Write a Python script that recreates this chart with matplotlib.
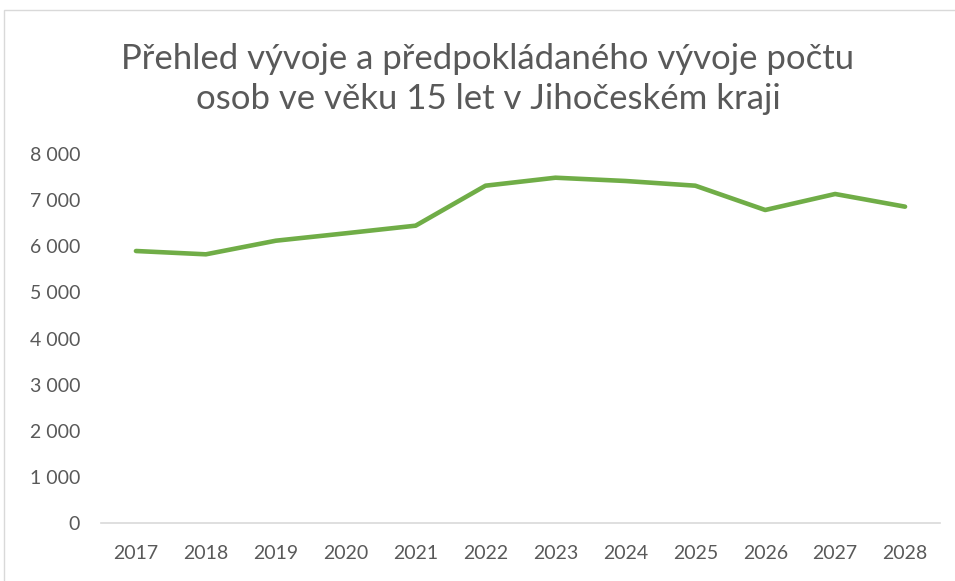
import matplotlib
matplotlib.use("Agg")
import matplotlib.pyplot as plt
from matplotlib.patches import Rectangle
from matplotlib.ticker import FuncFormatter

years = ["2017", "2018", "2019", "2020", "2021", "2022", "2023", "2024", "2025", "2026", "2027", "2028"]
values = [5897, 5825, 6120, 6281, 6446, 7313, 7486, 7415, 7313, 6786, 7133, 6858]
yticks = [0, 1000, 2000, 3000, 4000, 5000, 6000, 7000, 8000]
title = "Přehled vývoje a předpokládaného vývoje počtu\nosob ve věku 15 let v Jihočeském kraji"

plt.rcParams['font.family'] = ['Lato', 'DejaVu Sans']
TXT = "#595959"

fig = plt.figure(figsize=(9.55, 5.81), dpi=100)
fig.patches.append(Rectangle((4/955, -0.1), 1.2, 1 - 10/581 + 0.1, transform=fig.transFigure,
                             fill=False, edgecolor="#D9D9D9", linewidth=1))
ax = fig.add_axes([101/955, 1 - 523/581, (940 - 101)/955, (523 - 154)/581])

x = list(range(len(years)))
ax.plot(x, values, color="#70AD47", linewidth=3.3, solid_capstyle="round", solid_joinstyle="round")
ax.set_xlim(-0.5, len(years) - 0.5)
ax.set_ylim(0, 8000)
ax.set_yticks(yticks)
ax.yaxis.set_major_formatter(FuncFormatter(lambda v, p: f"{int(v):,}".replace(",", " ")))
ax.set_xticks(x)
ax.set_xticklabels(years)
for s in ["top", "right", "left"]:
    ax.spines[s].set_visible(False)
ax.spines["bottom"].set_color("#D9D9D9")
ax.spines["bottom"].set_linewidth(1.2)
ax.tick_params(axis="y", length=0, pad=15, labelsize=14, labelcolor=TXT)
ax.tick_params(axis="x", length=0, pad=16, labelsize=14, labelcolor=TXT)

fig.text(488/955, 1 - 79/581, title, ha="center", va="center", fontsize=25,
         color=TXT, linespacing=1.27)

fig.savefig("out.png", dpi=100)
